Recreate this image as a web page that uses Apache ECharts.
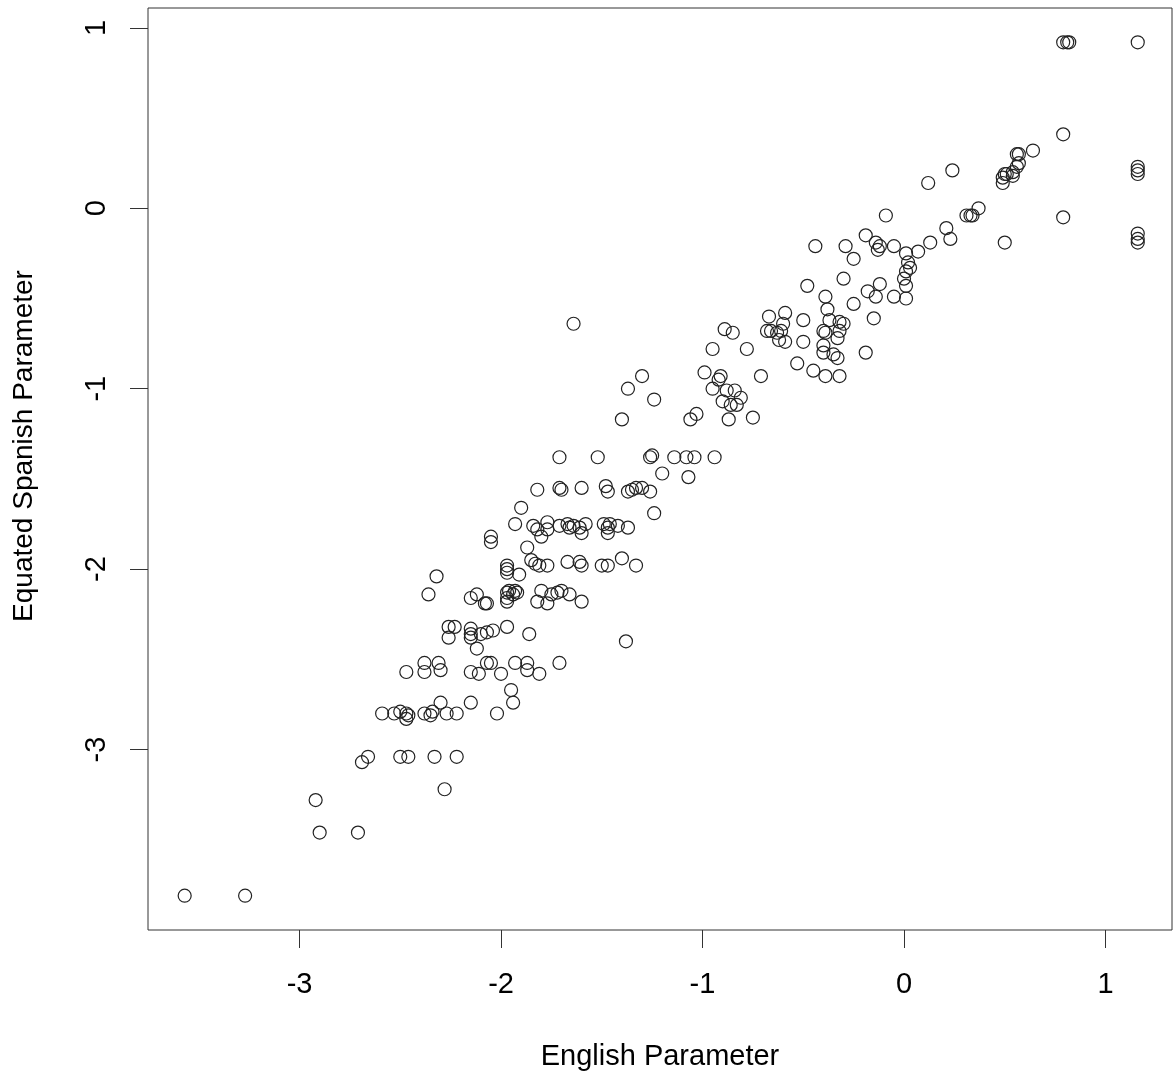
<!DOCTYPE html>
<html>
<head>
<meta charset="utf-8">
<script src="https://cdn.jsdelivr.net/npm/echarts@6/dist/echarts.min.js"></script>
<style>
html,body{margin:0;padding:0;background:#fff;}
#chart{width:1176px;height:1078px;}
</style>
</head>
<body>
<div id="chart"></div>
<script>
// English item parameter (x) and equated Spanish parameter (y)
const englishParam = [
  -3.57,-3.27,-2.92,-2.90,-2.71,-2.28,-2.69,-2.66,-2.50,-2.46,-2.33,-2.22,
  -2.59,-2.53,-2.50,-2.47,-2.46,-2.47,-2.38,-2.35,-2.34,-2.30,-2.27,-2.22,-2.15,-2.02,-1.95,-1.94,
  -2.47,-2.38,-2.38,-2.31,-2.30,-2.15,-2.11,-2.07,-2.05,-2.00,-1.93,-1.87,-1.87,-1.81,-1.71,
  -2.26,-2.23,-2.26,-2.15,-2.15,-2.15,-2.10,-2.07,-2.04,-1.97,-1.86,-2.12,-1.38,
  -2.36,-2.15,-2.12,-2.08,-2.07,-1.97,-1.96,-1.94,-1.92,-1.97,-1.93,-1.97,-1.82,-1.80,-1.77,-1.75,-1.72,-1.70,-1.66,-1.60,
  -2.32,-1.97,-1.97,-1.97,-1.91,-1.85,-1.83,-1.81,-1.77,-1.67,-1.61,-1.60,-1.50,-1.47,-1.40,-1.33,
  -2.05,-2.05,-1.87,
  -1.93,-1.84,-1.82,-1.80,-1.77,-1.77,-1.71,-1.67,-1.66,-1.64,-1.61,-1.60,-1.58,-1.49,-1.47,-1.47,-1.46,-1.42,-1.37,
  -1.90,-1.24,
  -1.82,-1.71,-1.70,-1.60,-1.48,-1.47,-1.37,-1.35,-1.33,-1.30,-1.26,
  -1.71,-1.52,-1.26,-1.25,-1.14,-1.08,-1.04,-0.94,-1.20,-1.07,
  -1.40,-1.24,-1.37,-1.30,-1.64,
  -1.06,-1.03,-0.87,-0.75,
  -0.99,-0.91,-0.92,-0.95,-0.88,-0.84,-0.81,-0.90,-0.86,-0.83,
  -0.89,-0.85,-0.95,-0.78,-0.71,
  -0.67,-0.59,-0.60,-0.68,-0.66,-0.63,-0.62,-0.59,-0.61,
  -0.50,-0.50,-0.37,-0.32,-0.30,-0.40,-0.39,-0.32,-0.33,-0.40,-0.40,-0.35,-0.33,-0.39,-0.32,-0.45,-0.53,
  -0.39,-0.38,-0.48,-0.30,-0.25,-0.15,-0.19,-0.25,-0.29,-0.44,-0.19,-0.09,-0.05,
  -0.14,-0.12,-0.13,-0.12,-0.18,-0.14,-0.05,
  0.01,0.02,0.03,0.01,0.00,0.01,0.01,
  0.07,0.13,0.21,0.23,0.31,0.33,0.34,0.37,0.50,0.12,0.24,
  0.64,0.56,0.57,0.57,0.56,0.49,0.50,0.51,0.54,0.54,0.49,
  0.79,0.79,0.79,0.81,0.82,1.16,1.16,1.16,1.16,1.16,1.16,1.16
];
const spanishParam = [
  -3.81,-3.81,-3.28,-3.46,-3.46,-3.22,-3.07,-3.04,-3.04,-3.04,-3.04,-3.04,
  -2.80,-2.80,-2.79,-2.80,-2.81,-2.83,-2.80,-2.81,-2.79,-2.74,-2.80,-2.80,-2.74,-2.80,-2.67,-2.74,
  -2.57,-2.52,-2.57,-2.52,-2.56,-2.57,-2.58,-2.52,-2.52,-2.58,-2.52,-2.52,-2.56,-2.58,-2.52,
  -2.32,-2.32,-2.38,-2.33,-2.36,-2.38,-2.36,-2.35,-2.34,-2.32,-2.36,-2.44,-2.40,
  -2.14,-2.16,-2.14,-2.19,-2.19,-2.13,-2.12,-2.14,-2.13,-2.18,-2.12,-2.16,-2.18,-2.12,-2.19,-2.14,-2.13,-2.12,-2.14,-2.18,
  -2.04,-1.98,-2.00,-2.02,-2.03,-1.95,-1.97,-1.98,-1.98,-1.96,-1.96,-1.98,-1.98,-1.98,-1.94,-1.98,
  -1.82,-1.85,-1.88,
  -1.75,-1.76,-1.78,-1.82,-1.74,-1.78,-1.76,-1.75,-1.77,-1.76,-1.77,-1.80,-1.75,-1.75,-1.77,-1.80,-1.75,-1.76,-1.77,
  -1.66,-1.69,
  -1.56,-1.55,-1.56,-1.55,-1.54,-1.57,-1.57,-1.56,-1.55,-1.55,-1.57,
  -1.38,-1.38,-1.38,-1.37,-1.38,-1.38,-1.38,-1.38,-1.47,-1.49,
  -1.17,-1.06,-1.00,-0.93,-0.64,
  -1.17,-1.14,-1.17,-1.16,
  -0.91,-0.93,-0.95,-1.00,-1.01,-1.01,-1.05,-1.07,-1.09,-1.09,
  -0.67,-0.69,-0.78,-0.78,-0.93,
  -0.60,-0.58,-0.64,-0.68,-0.68,-0.69,-0.73,-0.74,-0.68,
  -0.62,-0.74,-0.62,-0.63,-0.64,-0.68,-0.69,-0.68,-0.72,-0.76,-0.80,-0.81,-0.83,-0.93,-0.93,-0.90,-0.86,
  -0.49,-0.56,-0.43,-0.39,-0.53,-0.61,-0.80,-0.28,-0.21,-0.21,-0.15,-0.04,-0.21,
  -0.19,-0.21,-0.23,-0.42,-0.46,-0.49,-0.49,
  -0.25,-0.30,-0.33,-0.35,-0.39,-0.43,-0.50,
  -0.24,-0.19,-0.11,-0.17,-0.04,-0.04,-0.04,0.00,-0.19,0.14,0.21,
  0.32,0.30,0.30,0.25,0.23,0.14,0.19,0.19,0.20,0.18,0.17,
  0.41,-0.05,0.92,0.92,0.92,0.92,0.23,0.21,0.19,-0.14,-0.17,-0.19
];
const xTickValues = [-3, -2, -1, 0, 1];
const yTickValues = [-3, -2, -1, 0, 1];
const xTitle = 'English Parameter';
const yTitle = 'Equated Spanish Parameter';

const points = englishParam.map((x, i) => [x, spanishParam[i]]);
const FONT = '"Liberation Sans", Arial, Helvetica, sans-serif';

const chart = echarts.init(document.getElementById('chart'), null, {renderer: 'canvas'});
chart.setOption({
  animation: false,
  backgroundColor: '#ffffff',
  grid: {
    left: 148, top: 8, right: 4, bottom: 148,
    show: true, borderColor: '#333', borderWidth: 1, backgroundColor: 'transparent'
  },
  xAxis: {
    type: 'value', min: -3.752, max: 1.330,
    axisLine: {show: false, onZero: false},
    splitLine: {show: false},
    axisTick: {show: true, length: 18, lineStyle: {color: '#333', width: 1}, customValues: xTickValues},
    axisLabel: {customValues: xTickValues, fontSize: 29, fontFamily: FONT, color: '#000', margin: 40},
    name: xTitle, nameLocation: 'middle', nameGap: 112,
    nameTextStyle: {fontSize: 29, fontFamily: FONT, color: '#000'}
  },
  yAxis: {
    type: 'value', min: -4.0, max: 1.11,
    axisLine: {show: false, onZero: false},
    splitLine: {show: false},
    axisTick: {show: true, length: 18, lineStyle: {color: '#333', width: 1}, customValues: yTickValues},
    axisLabel: {customValues: yTickValues, fontSize: 29, fontFamily: FONT, color: '#000', margin: 37, rotate: 90},
    name: yTitle, nameLocation: 'middle', nameGap: 110,
    nameTextStyle: {fontSize: 28, fontFamily: FONT, color: '#000', padding: [0, 0, 0, 46]}
  },
  series: [{
    type: 'scatter',
    data: points,
    symbol: 'circle',
    symbolSize: 13,
    itemStyle: {color: 'rgba(255,255,255,0)', borderColor: '#222', borderWidth: 1.2, opacity: 1},
    emphasis: {disabled: true}
  }]
});
</script>
</body>
</html>
